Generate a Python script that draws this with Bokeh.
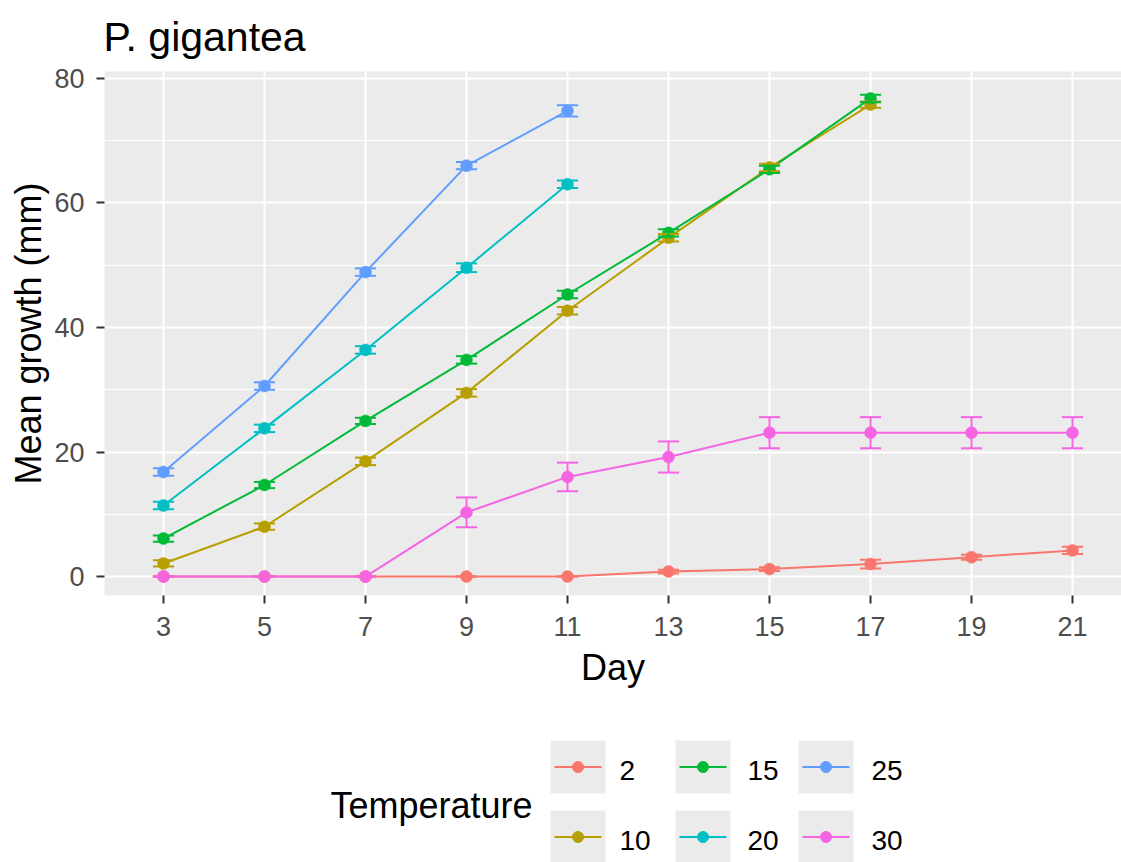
from bokeh.plotting import figure
from bokeh.models import Range1d, FixedTicker, Title
from bokeh.layouts import column
from bokeh.embed import file_html
from bokeh.resources import INLINE
from bokeh.core.properties import value

# ---- data -------------------------------------------------------------
days_long = [3, 5, 7, 9, 11, 13, 15, 17, 19, 21]
days_mid = [3, 5, 7, 9, 11, 13, 15, 17]
days_short = [3, 5, 7, 9, 11]

temperatures = ["2", "10", "15", "20", "25", "30"]
colors = ["#F8766D", "#B79F00", "#00BA38", "#00BFC4", "#619CFF", "#F564E3"]

growth_2 = [0, 0, 0, 0, 0, 0.8, 1.2, 2.0, 3.1, 4.2]
se_2 = [0, 0, 0, 0, 0, 0.3, 0.3, 0.7, 0.4, 0.6]

growth_10 = [2.1, 8.0, 18.5, 29.5, 42.7, 54.4, 65.7, 75.8]
se_10 = [0.5, 0.5, 0.6, 0.6, 0.6, 0.6, 0.6, 0.5]

growth_15 = [6.1, 14.7, 25.0, 34.8, 45.3, 55.2, 65.4, 76.8]
se_15 = [0.5, 0.5, 0.5, 0.6, 0.6, 0.6, 0.6, 0.6]

growth_20 = [11.4, 23.8, 36.4, 49.6, 63.0]
se_20 = [0.6, 0.6, 0.6, 0.7, 0.6]

growth_25 = [16.8, 30.6, 48.9, 66.0, 74.8]
se_25 = [0.6, 0.6, 0.6, 0.6, 0.9]

growth_30 = [0, 0, 0, 10.3, 16.0, 19.2, 23.1, 23.1, 23.1, 23.1]
se_30 = [0, 0, 0, 2.4, 2.3, 2.5, 2.5, 2.5, 2.5, 2.5]

x_ticks = [3, 5, 7, 9, 11, 13, 15, 17, 19, 21]
y_ticks = [0, 20, 40, 60, 80]
y_minor = [10, 30, 50, 70]

series = [
    (days_long, growth_2, se_2),
    (days_mid, growth_10, se_10),
    (days_mid, growth_15, se_15),
    (days_short, growth_20, se_20),
    (days_short, growth_25, se_25),
    (days_long, growth_30, se_30),
]

FONT = "Liberation Sans"
CAP_HALF = 0.21  # half width of the error-bar caps, in days

# ---- main panel ---------------------------------------------------------
p = figure(
    width=1121, height=700,
    x_range=Range1d(1.832, 21.97), y_range=Range1d(-3.046, 81.12),
    output_backend="svg", toolbar_location=None,
    min_border_left=104, min_border_right=0, min_border_top=70, min_border_bottom=105,
    background_fill_color="#EBEBEB", border_fill_color="white",
    outline_line_color=None,
)
p.title = Title(text="P. gigantea", align="left", text_font=FONT, text_font_size="41px",
                text_font_style="normal", text_color="black", standoff=23, offset=-1)

for (d, g, s), c in zip(series, colors):
    p.line(d, g, line_color=c, line_width=2)

for (d, g, s), c in zip(series, colors):
    p.scatter(d, g, size=12, fill_color=c, line_color=c, line_width=0.5)

for (d, g, s), c in zip(series, colors):
    lo = [gi - si for gi, si in zip(g, s)]
    hi = [gi + si for gi, si in zip(g, s)]
    p.segment(x0=d, y0=lo, x1=d, y1=hi, line_color=c, line_width=2)
    left = [di - CAP_HALF for di in d]
    right = [di + CAP_HALF for di in d]
    p.segment(x0=left, y0=lo, x1=right, y1=lo, line_color=c, line_width=2)
    p.segment(x0=left, y0=hi, x1=right, y1=hi, line_color=c, line_width=2)

# axes
p.xaxis.ticker = FixedTicker(ticks=x_ticks)
p.yaxis.ticker = FixedTicker(ticks=y_ticks, minor_ticks=y_minor)
for ax in (p.xaxis[0], p.yaxis[0]):
    ax.axis_line_color = None
    ax.major_tick_line_color = "#333333"
    ax.major_tick_line_width = 2
    ax.major_tick_out = 8
    ax.major_tick_in = 0
    ax.minor_tick_line_color = None
    ax.major_label_text_font = FONT
    ax.major_label_text_font_size = "27px"
    ax.major_label_text_color = "#4D4D4D"
    ax.axis_label_text_font = FONT
    ax.axis_label_text_font_size = "36px"
    ax.axis_label_text_font_style = "normal"
    ax.axis_label_text_color = "black"
p.xaxis.major_label_standoff = 13
p.yaxis.major_label_standoff = 12
p.xaxis.axis_label = "Day"
p.yaxis.axis_label = "Mean growth (mm)"
p.xaxis.axis_label_standoff = 8
p.yaxis.axis_label_standoff = 2

# grid
p.xgrid.ticker = FixedTicker(ticks=x_ticks)
p.xgrid.grid_line_color = "white"
p.xgrid.grid_line_width = 2
p.ygrid.ticker = FixedTicker(ticks=y_ticks, minor_ticks=y_minor)
p.ygrid.grid_line_color = "white"
p.ygrid.grid_line_width = 2
p.ygrid.minor_grid_line_color = "white"
p.ygrid.minor_grid_line_width = 1

# ---- legend strip (pixel coordinates) ----------------------------------
leg = figure(
    width=1121, height=162,
    x_range=Range1d(104, 1121), y_range=Range1d(862, 700),
    output_backend="svg", toolbar_location=None,
    min_border_left=104, min_border_right=0, min_border_top=0, min_border_bottom=0,
    x_axis_type=None, y_axis_type=None,
    outline_line_color=None, background_fill_color="white", border_fill_color="white",
)
leg.xgrid.visible = False
leg.ygrid.visible = False

key_left = [550, 675, 798]
label_left = [619, 747, 871]
key_top = [740, 810]
KEY_W, KEY_H = 55, 53

kx0, kx1, ky0, ky1, cx, cy, lx, ly = [], [], [], [], [], [], [], []
for i, t in enumerate(temperatures):
    col, row = divmod(i, 2)
    x0, y0 = key_left[col], key_top[row]
    kx0.append(x0); kx1.append(x0 + KEY_W)
    ky0.append(y0); ky1.append(y0 + KEY_H)
    cx.append(x0 + KEY_W / 2); cy.append(y0 + KEY_H / 2)
    lx.append(label_left[col]); ly.append(y0 + KEY_H / 2 + 3)

leg.quad(left=kx0, right=kx1, top=ky0, bottom=ky1, fill_color="#EBEBEB", line_color=None)
leg.segment(x0=[x + 4 for x in kx0], y0=cy, x1=[x - 4 for x in kx1], y1=cy,
            line_color=colors, line_width=2)
leg.scatter(cx, cy, size=11, fill_color=colors, line_color=colors)
leg.text(lx, ly, text=temperatures, text_font=value(FONT), text_font_size="28px",
         text_color="black", text_baseline="middle", text_align="left")
leg.text([330], [805], text=["Temperature"], text_font=value(FONT), text_font_size="36px",
         text_color="black", text_baseline="middle", text_align="left")

layout = column(p, leg, spacing=0)
open("out.html", "w").write(file_html(layout, INLINE))
